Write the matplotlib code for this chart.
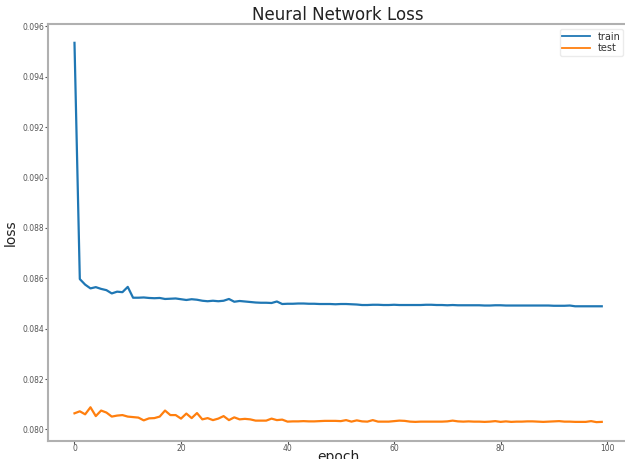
import matplotlib
matplotlib.use('Agg')
import matplotlib.pyplot as plt
import numpy as np

train_loss = [
	0.09535, 0.08597, 0.08575, 0.08560, 0.08565, 0.08558, 0.08553, 0.08540, 0.08547, 0.08545,
	0.08566, 0.08523, 0.08523, 0.08524, 0.08522, 0.08521, 0.08522, 0.08518, 0.08519, 0.08520,
	0.08517, 0.08514, 0.08517, 0.08515, 0.08511, 0.08509, 0.08511, 0.08509, 0.08511, 0.08518,
	0.08507, 0.08510, 0.08508, 0.08506, 0.08504, 0.08503, 0.08503, 0.08502, 0.08508, 0.08498,
	0.08499, 0.08499, 0.08500, 0.08500, 0.08499, 0.08499, 0.08498, 0.08498, 0.08498, 0.08497,
	0.08498, 0.08498, 0.08497, 0.08496, 0.08494, 0.08494, 0.08495, 0.08495, 0.08494, 0.08494,
	0.08495, 0.08494, 0.08494, 0.08494, 0.08494, 0.08494, 0.08495, 0.08495, 0.08494, 0.08494,
	0.08493, 0.08494, 0.08493, 0.08493, 0.08493, 0.08493, 0.08493, 0.08492, 0.08492, 0.08493,
	0.08493, 0.08492, 0.08492, 0.08492, 0.08492, 0.08492, 0.08492, 0.08492, 0.08492, 0.08492,
	0.08491, 0.08491, 0.08491, 0.08492, 0.08489, 0.08489, 0.08489, 0.08489, 0.08489, 0.08489,
]

test_loss = [
	0.08064, 0.08072, 0.08060, 0.08088, 0.08053, 0.08075, 0.08067, 0.08051, 0.08055, 0.08057,
	0.08051, 0.08049, 0.08047, 0.08036, 0.08044, 0.08045, 0.08051, 0.08075, 0.08057, 0.08057,
	0.08043, 0.08063, 0.08045, 0.08065, 0.08040, 0.08045, 0.08037, 0.08043, 0.08053, 0.08037,
	0.08048, 0.08040, 0.08042, 0.08040, 0.08035, 0.08035, 0.08035, 0.08043, 0.08037, 0.08039,
	0.08031, 0.08032, 0.08032, 0.08033, 0.08032, 0.08032, 0.08033, 0.08034, 0.08034, 0.08034,
	0.08033, 0.08037, 0.08031, 0.08036, 0.08032, 0.08031, 0.08037, 0.08031, 0.08031, 0.08031,
	0.08033, 0.08035, 0.08034, 0.08031, 0.08030, 0.08031, 0.08031, 0.08031, 0.08031, 0.08031,
	0.08032, 0.08035, 0.08032, 0.08031, 0.08032, 0.08031, 0.08031, 0.08030, 0.08031, 0.08033,
	0.08030, 0.08032, 0.08030, 0.08031, 0.08031, 0.08032, 0.08032, 0.08031, 0.08030, 0.08031,
	0.08032, 0.08033, 0.08031, 0.08031, 0.08030, 0.08030, 0.08030, 0.08033, 0.08029, 0.08030,
]

def main():
	epochs = np.arange(len(train_loss))

	fig = plt.figure(figsize=(6.25, 4.59), dpi=100)
	ax = fig.add_axes([0.077, 0.039, 0.928, 0.909])

	ax.plot(epochs, train_loss, color='#1f77b4', lw=1.6, label='train')
	ax.plot(epochs, test_loss, color='#ff7f0e', lw=1.6, label='test')

	ax.set_title('Neural Network Loss', fontsize=12, color='#222222', pad=1)
	ax.set_xlabel('epoch', fontsize=10, color='#222222', labelpad=-2)
	ax.set_ylabel('loss', fontsize=10, color='#222222', labelpad=3)

	ax.set_xticks([0, 20, 40, 60, 80, 100])
	ax.set_yticks([0.080, 0.082, 0.084, 0.086, 0.088, 0.090, 0.092, 0.094, 0.096])
	ax.tick_params(labelsize=5.5, colors='#555555', length=2, width=0.8, pad=1)
	ax.tick_params(axis='x', pad=0)

	for s in ax.spines.values():
		s.set_color('#b0b0b0')
		s.set_linewidth(1.5)

	# legend tucked into the top right corner
	leg = ax.legend(loc='upper right', bbox_to_anchor=(1.0, 1.0), fontsize=7,
		frameon=True, handlelength=2.8, borderpad=0.3, labelspacing=0.15, handletextpad=0.8)
	leg.get_frame().set_edgecolor('#e6e6e6')
	for t in leg.get_texts():
		t.set_color('#333333')
	for h in leg.get_lines():
		h.set_linewidth(1.3)

	plt.savefig('out.png', dpi=100)


if __name__ == '__main__':
	main()
